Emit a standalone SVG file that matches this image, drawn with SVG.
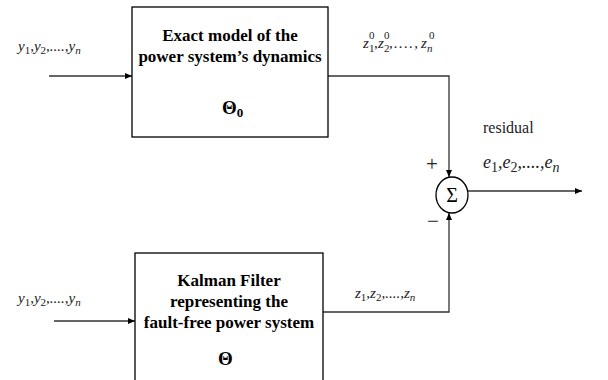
<svg xmlns="http://www.w3.org/2000/svg" width="608" height="380" viewBox="0 0 608 380">
<style>
.box{fill:#fff;stroke:#000;stroke-width:1.3}
.wire{fill:none;stroke:#333;stroke-width:1.3}
.title{font-family:"Liberation Serif","Times New Roman",serif;font-weight:bold;font-size:17px;fill:#000;text-anchor:middle}
.theta{font-family:"Liberation Serif","Times New Roman",serif;font-weight:bold;font-size:19px;fill:#000}
.lab{font-family:"Liberation Serif","Times New Roman",serif;font-style:italic;font-size:15px;fill:#222}
.plain{font-family:"Liberation Serif","Times New Roman",serif;font-size:16px;fill:#222}
.sub{font-size:11px;font-style:normal}
.subi{font-size:11px;font-style:italic}
</style>
<defs>
<marker id="arr" markerUnits="userSpaceOnUse" markerWidth="7" markerHeight="6" refX="7" refY="3" orient="auto">
<path d="M0,0 L7,3 L0,6 z" fill="#000"/>
</marker>
</defs>

<g id="connectors">
<line class="wire" x1="49" y1="76" x2="132" y2="76" marker-end="url(#arr)"/>
<line class="wire" x1="54" y1="321" x2="135" y2="321" marker-end="url(#arr)"/>
<path class="wire" d="M328,76 H449 V177" marker-end="url(#arr)"/>
<path class="wire" d="M323,312 H449 V213" marker-end="url(#arr)"/>
<line class="wire" x1="468" y1="191" x2="582" y2="191" marker-end="url(#arr)"/>
</g>

<g id="exact-model">
<rect class="box" x="132" y="7" width="196" height="130"/>
<text class="title" x="230" y="41">Exact model of the</text>
<text class="title" x="230" y="62">power system’s dynamics</text>
<text class="theta" x="222" y="114">Θ<tspan font-size="13" dy="3">0</tspan></text>
</g>

<g id="kalman-filter">
<rect class="box" x="135" y="253" width="188" height="140"/>
<text class="title" x="229" y="286">Kalman Filter</text>
<text class="title" x="229" y="307">representing the</text>
<text class="title" x="229" y="328">fault-free power system</text>
<text class="theta" x="218" y="365">Θ</text>
</g>

<g id="sum">
<ellipse cx="452" cy="195" rx="16" ry="18" fill="#fff" stroke="#000" stroke-width="1.3"/>
<text x="452" y="202" font-family="Liberation Serif, serif" font-size="20" text-anchor="middle" fill="#000">Σ</text>
<text class="plain" x="432" y="171" text-anchor="middle" style="font-size:21px">+</text>
<text class="plain" x="433" y="228" text-anchor="middle" style="font-size:21px">−</text>
</g>

<g id="labels">
<text class="lab" x="18" y="51">y<tspan class="sub" dy="3">1</tspan><tspan dy="-3">,y</tspan><tspan class="sub" dy="3">2</tspan><tspan dy="-3">,....,y</tspan><tspan class="subi" dy="3">n</tspan></text>
<text class="lab" x="18" y="303">y<tspan class="sub" dy="3">1</tspan><tspan dy="-3">,y</tspan><tspan class="sub" dy="3">2</tspan><tspan dy="-3">,....,y</tspan><tspan class="subi" dy="3">n</tspan></text>
<text class="lab" x="355" y="298">z<tspan class="sub" dy="3">1</tspan><tspan dy="-3">,z</tspan><tspan class="sub" dy="3">2</tspan><tspan dy="-3">,....,z</tspan><tspan class="subi" dy="3">n</tspan></text>
<g class="lab">
<text x="363" y="48">z</text>
<text class="sub" x="369" y="52">1</text>
<text class="sub" x="369" y="39">0</text>
<text x="374" y="48">,</text>
<text x="378" y="48">z</text>
<text class="sub" x="384" y="52">2</text>
<text class="sub" x="384" y="39">0</text>
<text x="389" y="48" textLength="29" lengthAdjust="spacing">,....,</text>
<text x="421" y="48">z</text>
<text class="subi" x="427" y="52">n</text>
<text class="sub" x="429" y="39">0</text>
</g>
<text class="plain" x="483" y="133">residual</text>
<text class="plain" x="483" y="168" style="font-size:18px;font-style:italic">e<tspan style="font-size:14px;font-style:normal" dy="4">1</tspan><tspan dy="-4">,e</tspan><tspan style="font-size:14px;font-style:normal" dy="4">2</tspan><tspan dy="-4">,....,e</tspan><tspan style="font-size:14px" dy="4">n</tspan></text>
</g>
</svg>
